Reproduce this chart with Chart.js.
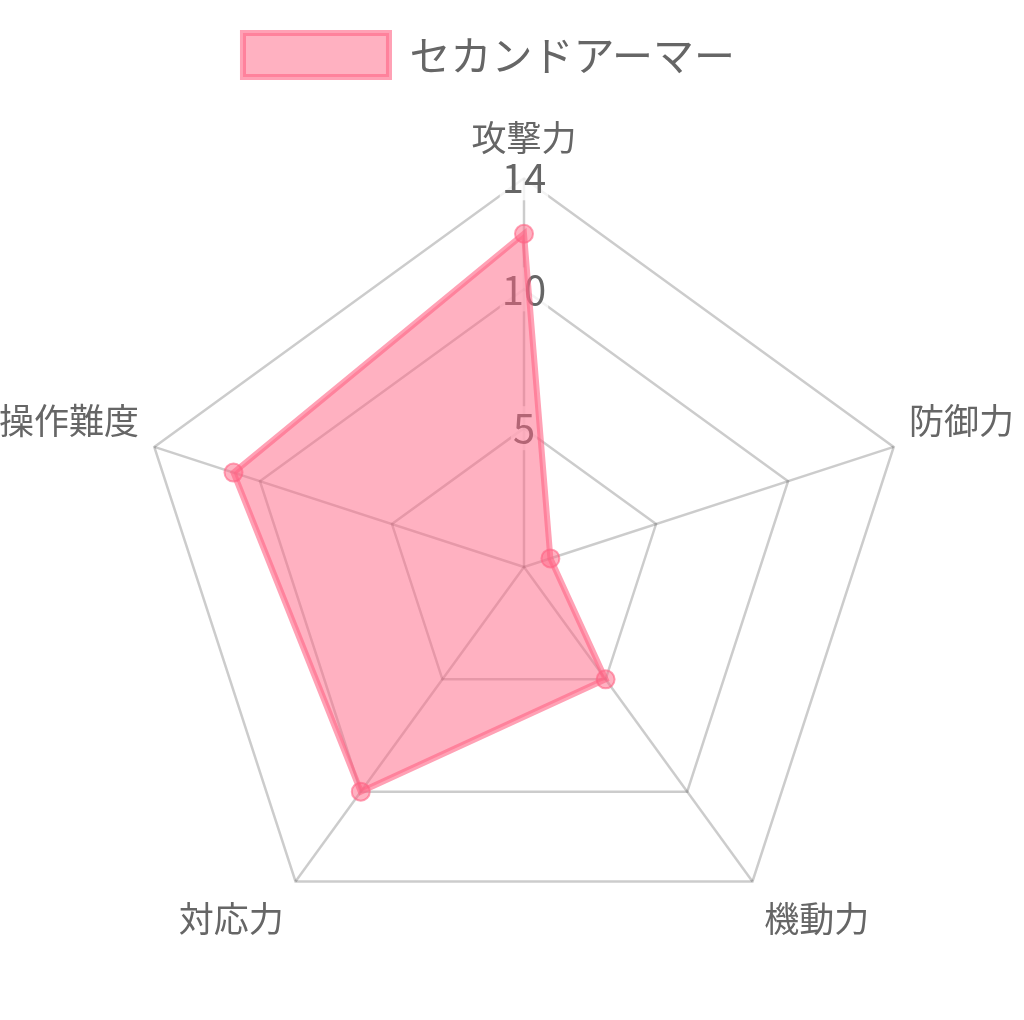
<!DOCTYPE html>
<html>
<head>
<meta charset="utf-8">
<script src="https://cdn.jsdelivr.net/npm/chart.js@4/dist/chart.umd.min.js"></script>
<style>
  html, body { margin: 0; padding: 0; background: #fff; overflow: hidden; }
  /* canvas is a bit wider than the window so the side labels can sit on the edge */
  #chart { display: block; margin-left: -20px; }
</style>
</head>
<body>
<canvas id="chart" width="1052" height="1020"></canvas>
<script>
const labels = ['攻撃力', '防御力', '機動力', '対応力', '操作難度'];
const seriesName = 'セカンドアーマー';
const seriesValues = [12, 1, 5, 10, 11];
const scaleMax = 14;
const scaleStep = 5;

const pink = 'rgba(255, 99, 132, 0.5)';
const pinkLine = 'rgba(255, 99, 132, 0.6)';
const fontFamily = '"Noto Sans CJK JP", "Noto Sans", sans-serif';

// legend sits a little left of the web's centre in the original
const nudgeLegend = {
    id: 'nudgeLegend',
    afterLayout(chart) {
        chart.legend.left -= 17;
        chart.legend.right -= 17;
    }
};

new Chart(document.getElementById('chart'), {
    type: 'radar',
    data: {
        labels: labels,
        datasets: [{
            label: seriesName,
            data: seriesValues,
            backgroundColor: pink,
            borderColor: pinkLine,
            borderWidth: 6,
            pointRadius: 9,
            pointBackgroundColor: pink,
            pointBorderColor: pinkLine,
            pointBorderWidth: 2
        }]
    },
    options: {
        responsive: false,
        devicePixelRatio: 1,
        animation: false,
        layout: { padding: { top: 30, left: 0, right: 0, bottom: 12 } },
        plugins: {
            legend: {
                labels: {
                    boxWidth: 146,
                    boxHeight: 44,
                    padding: 3,
                    color: '#666',
                    font: { family: fontFamily, size: 41 }
                }
            },
            tooltip: { enabled: false }
        },
        scales: {
            r: {
                min: 0,
                max: scaleMax,
                ticks: {
                    stepSize: scaleStep,
                    color: '#666',
                    font: { family: fontFamily, size: 40 }
                },
                grid: { color: 'rgba(0, 0, 0, 0.2)', lineWidth: 2.5 },
                angleLines: { color: 'rgba(0, 0, 0, 0.2)', lineWidth: 2.5 },
                pointLabels: {
                    color: '#666',
                    // side labels sit a little closer to the web
                    padding: (ctx) => (ctx.index === 1 || ctx.index === 4) ? -6 : -2,
                    font: { family: fontFamily, size: 35 }
                }
            }
        }
    },
    plugins: [nudgeLegend]
});
</script>
</body>
</html>
